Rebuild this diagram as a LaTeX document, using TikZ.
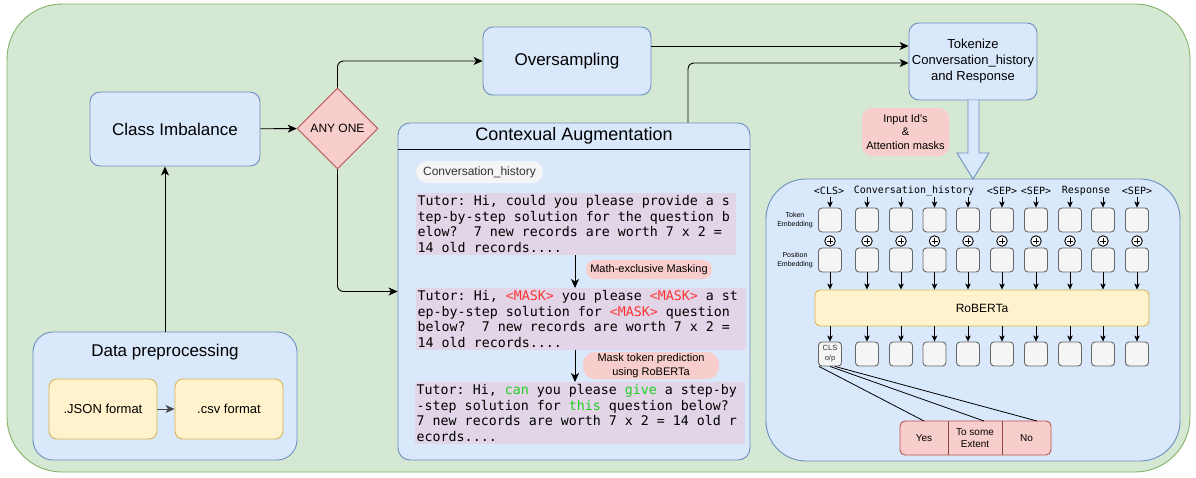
\documentclass[tikz,border=0pt]{standalone}
\usepackage{fontspec}
\setmainfont{Liberation Sans}
\newfontfamily\monof{DejaVu Sans Mono}
\usetikzlibrary{arrows.meta,shapes.geometric,calc}
\definecolor{gfill}{HTML}{D5E8D4}
\definecolor{gstroke}{HTML}{82B366}
\definecolor{bfill}{HTML}{DAE8FC}
\definecolor{bstroke}{HTML}{6C8EBF}
\definecolor{rfill}{HTML}{F8CECC}
\definecolor{rstroke}{HTML}{B85450}
\definecolor{yfill}{HTML}{FFF2CC}
\definecolor{ystroke}{HTML}{D6B656}
\definecolor{lgfill}{HTML}{F5F5F5}
\definecolor{lgstroke}{HTML}{666666}
\definecolor{pfill}{HTML}{E1D5E7}
\definecolor{maskred}{HTML}{FF3333}
\definecolor{okgreen}{HTML}{22CC22}
\newcommand\fsz[2]{\fontsize{#1}{#2}\selectfont}
\newcommand\codefont{\monof\fsz{13.3}{15.5}\frenchspacing}
\newcommand\fixsp{\spaceskip=0pt\xspaceskip=0pt\relax}
\tikzset{
  box/.style={draw=bstroke, fill=bfill, line width=0.9pt, rounded corners=10pt, align=center, inner sep=0pt},
  ybox/.style={draw=ystroke, fill=yfill, line width=0.9pt, rounded corners=8pt, align=center, inner sep=0pt, minimum width=108pt, minimum height=60pt, font=\fsz{13}{15}},
  gbox/.style={draw=lgstroke, fill=lgfill, line width=0.9pt, rounded corners=3.5pt, minimum width=23pt, minimum height=24pt, inner sep=0pt},
  pill/.style={fill=rfill, align=center, inner sep=0pt},
  arr/.style={-{Stealth[length=9pt,width=8pt,inset=2.5pt]}, line width=0.9pt},
  sarr/.style={-{Stealth[length=6pt,width=5.5pt,inset=1.5pt]}, line width=0.8pt},
  code/.style={fill=pfill, anchor=north west, inner xsep=1.5pt, inner ysep=0pt, align=left, font=\codefont},
  tok/.style={font=\monof\fsz{10}{12}, inner sep=0pt},
  plusc/.style={circle, draw, fill=white, line width=0.9pt, minimum size=10.5pt, inner sep=0pt},
}
\begin{document}
\begin{tikzpicture}[x=1pt,y=-1pt]
\useasboundingbox (0,0) rectangle (1196,477);
% outer green container
\draw[draw=gstroke, fill=gfill, line width=0.9pt, rounded corners=55pt] (7,4) rectangle (1190,472);

% left column
\node[box, minimum width=170pt, minimum height=74pt, font=\fsz{17}{20}] (ci) at (175,129) {Class Imbalance};
\node[diamond, aspect=1, draw=rstroke, fill=rfill, line width=0.9pt, minimum width=81pt, minimum height=81pt, inner sep=0pt, font=\fsz{12}{14}] (d) at (337.5,128.5) {ANY ONE};
\node[box, minimum width=168pt, minimum height=68pt, font=\fsz{17}{20}] (os) at (567,61) {Oversampling};
\node[box, minimum width=128pt, minimum height=77pt, font=\fsz{13}{16}] (tk) at (973,61.5) {Tokenize\\Conversation\_history\\and Response};

% data preprocessing
\node[box, rounded corners=20pt, minimum width=264pt, minimum height=128pt] (dp) at (165,396) {};
\node[font=\fsz{17}{20}, inner sep=0pt] (dpt) at (165,352) {Data preprocessing};
\node[ybox] (json) at (103,409) {.JSON format};
\node[ybox] (csv) at (229,409) {.csv format};
\draw[arr, draw=lgstroke!70!black] (json) -- (csv);

% contextual augmentation
\node[box, rounded corners=12pt, minimum width=352pt, minimum height=337pt] (ca) at (574,291.5) {};
\draw[line width=0.9pt] (ca.west |- 0,149) -- (ca.east |- 0,149);
\node[font=\fsz{18}{21}, inner sep=0pt] (cat) at (574,136) {Contexual Augmentation};
\node[fill=lgfill, rounded corners=11pt, minimum width=127pt, minimum height=22pt, inner sep=0pt, font=\fsz{12}{14}, text=black!80] (ch) at (479.5,172) {Conversation\_history};

\node[code, text width=317pt, minimum height=62pt] (b1) at (416,193)
 {\fixsp Tutor: Hi, could you please provide a s\\tep-by-step solution for the question b\\elow?\ \ 7 new records are worth 7 x 2 =\\14 old records....};
\node[code, text width=327pt, minimum height=62pt] (b2) at (416,288)
 {\fixsp Tutor: Hi, \textcolor{maskred}{<MASK>} you please \textcolor{maskred}{<MASK>} a st\\ep-by-step solution for \textcolor{maskred}{<MASK>} question\\below?\ \ 7 new records are worth 7 x 2 =\\14 old records....};
\node[code, text width=327pt, minimum height=62pt] (b3) at (415,382)
 {\fixsp Tutor: Hi, \textcolor{okgreen}{can} you please \textcolor{okgreen}{give} a step-by\\-step solution for \textcolor{okgreen}{this} question below?\\7 new records are worth 7 x 2 = 14 old r\\ecords....};
\draw[arr] (b1.south -| 575,0) -- (b2.north -| 575,0);
\draw[arr] (b2.south -| 575,0) -- (b3.north -| 575,0);
\node[pill, rounded corners=9pt, minimum width=126pt, minimum height=19pt, font=\fsz{11}{13}] (mem) at (649,269.5) {Math-exclusive Masking};
\node[pill, rounded corners=12pt, minimum width=136pt, minimum height=27pt, font=\fsz{11}{14}] (mtp) at (651,365.5) {Mask token prediction\\using RoBERTa};

% main connectors
\draw[arr] (ci) -- (d);
\draw[arr] (dp.north) -- (dp.north |- ci.south);
\draw[arr, rounded corners=6pt] (d.north) |- (os.west);
\draw[arr, rounded corners=6pt] (d.south) |- (ca.west);
\draw[arr] (os.east |- 0,46) -- (tk.west |- 0,46);
\draw[arr, rounded corners=6pt] (ca.north -| 688,0) |- (tk.west |- 0,63);

% right panel
\node[box, rounded corners=40pt, minimum width=414pt, minimum height=282pt] (rp) at (973,320) {};
\draw[draw=bstroke, fill=bfill, line width=0.9pt] (tk.south -| 968,0) -- (968,153) -- (957,153) -- (973,179) -- (989,153) -- (979,153) -- (tk.south -| 979,0);
\node[pill, rounded corners=10pt, minimum width=87pt, minimum height=48pt, font=\fsz{11}{13.5}] (ids) at (905.5,132) {Input Id's\\\&\\Attention masks};

\node[draw=ystroke, fill=yfill, line width=0.9pt, rounded corners=5pt, minimum width=334pt, minimum height=36pt, font=\fsz{12}{14}] (rob) at (982,308) {RoBERTa};

\node[tok] (l1) at (829,191) {<CLS>};
\node[tok] (l2) at (914,191) {Conversation\_history};
\node[tok] (l3) at (1002,191) {<SEP>};
\node[tok] (l4) at (1036,191) {<SEP>};
\node[tok] (l5) at (1086,191) {Response};
\node[tok] (l6) at (1137,191) {<SEP>};

\node[align=center, font=\fsz{7}{9}, inner sep=0pt] (te) at (795,220) {Token\\Embedding};
\node[align=center, font=\fsz{7}{9}, inner sep=0pt] (pe) at (795,260) {Position\\Embedding};

\foreach \x [count=\i] in {830,867,901,934.5,968,1002,1036,1070,1103,1137} {
  \node[gbox] (t\i) at (\x,220) {};
  \node[gbox] (p\i) at (\x,260) {};
  \coordinate (a\i) at (\x,197);
  \draw[sarr] (a\i) -- (t\i.north);
  \node[plusc] (c\i) at (\x,241) {};
  \draw[line width=1pt] ($(c\i)+(-3,0)$) -- ($(c\i)+(3,0)$) ($(c\i)+(0,-3)$) -- ($(c\i)+(0,3)$);
  \draw[sarr] (p\i.south) -- (p\i.south |- rob.north);
  \node[gbox] (o\i) at (\x,354) {};
  \draw[sarr] (rob.south -| o\i.north) -- (o\i.north);
}
\node[align=center, font=\fsz{7.5}{10}, inner sep=0pt, text=black!80] (o1t) at (o1) {CLS\\o/p};

% output classes
\draw[draw=rstroke, fill=rfill, line width=0.9pt, rounded corners=5pt] (900,421) rectangle (1051,455);
\draw[draw=rstroke!80!black, line width=0.9pt] (948,421) -- (948,455);
\draw[draw=rstroke!80!black, line width=0.9pt] (1002,421) -- (1002,455);
\node[font=\fsz{10}{12}, inner sep=0pt] (yes) at (924,438) {Yes};
\node[font=\fsz{10}{12}, align=center, inner sep=0pt] (ext) at (975,438) {To some\\Extent};
\node[font=\fsz{10}{12}, inner sep=0pt] (no) at (1026.5,438) {No};
\draw[line width=0.8pt] ($(o1.south west)+(1,0)$) -- (yes |- 0,421);
\draw[line width=0.8pt] (o1.south) -- ($(ext |- 0,421)+(9,0)$);
\draw[line width=0.8pt] ($(o1.south)+(5,0)$) -- ($(no |- 0,421)+(10.5,0)$);
\end{tikzpicture}
\end{document}
